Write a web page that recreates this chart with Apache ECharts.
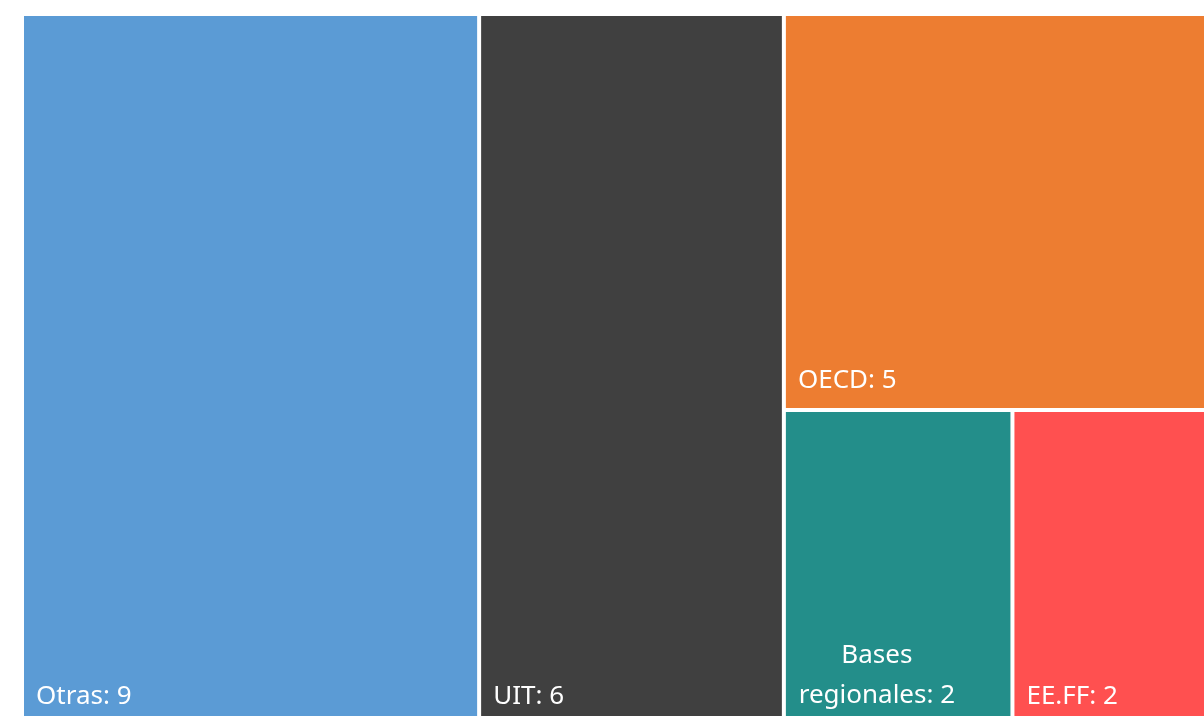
<!DOCTYPE html>
<html>
<head>
<meta charset="utf-8">
<script src="https://cdn.jsdelivr.net/npm/echarts@6/dist/echarts.min.js"></script>
<style>
html, body { margin: 0; padding: 0; background: #fff; }
#chart { width: 1204px; height: 716px; }
</style>
</head>
<body>
<div id="chart"></div>
<script>
const names = ['Otras', 'UIT', 'OECD', 'Bases regionales', 'EE.FF'];
const values = [9, 6, 5, 2, 2];
const colors = ['#5B9BD5', '#404040', '#ED7D31', '#238E8A', '#FF5050'];

function leaf(i) {
    return {
        name: names[i],
        value: values[i],
        itemStyle: { color: colors[i] }
    };
}

// the long label wraps onto two centred lines in the original
const basesNode = leaf(3);
basesNode.label = {
    formatter: 'Bases\nregionales: ' + values[3],
    align: 'center',
    lineHeight: 40,
    offset: [80, 7]
};

// grouping only to get the same block arrangement as the original
const treeData = [
    leaf(0),
    leaf(1),
    {
        name: 'g1',
        children: [
            leaf(2),
            { name: 'g2', children: [basesNode, leaf(4)] }
        ]
    }
];

const chart = echarts.init(document.getElementById('chart'));
chart.setOption({
    animation: false,
    series: [{
        type: 'treemap',
        left: 24,
        top: 16,
        width: 1215,
        height: 709,
        sort: false,
        squareRatio: 0.3,
        roam: false,
        nodeClick: false,
        breadcrumb: { show: false },
        itemStyle: { borderWidth: 0, gapWidth: 4, borderColor: '#fff' },
        upperLabel: { show: false },
        label: {
            show: true,
            position: 'insideBottomLeft',
            distance: 11,
            offset: [-4, 1],
            color: '#fff',
            fontSize: 26,
            fontFamily: 'Noto Sans',
            formatter: p => p.name + ': ' + p.value
        },
        data: treeData
    }]
});
</script>
</body>
</html>
